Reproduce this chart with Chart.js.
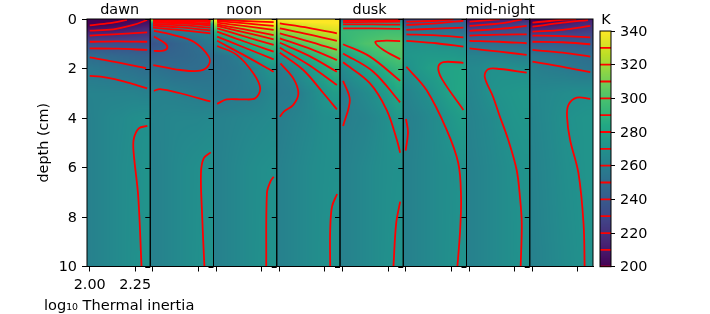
<!DOCTYPE html>
<html><head><meta charset="utf-8">
<style>html,body{margin:0;padding:0;background:#fff;width:710px;height:314px;overflow:hidden}
canvas{position:absolute;top:0}</style>
<script src="https://cdn.jsdelivr.net/npm/chart.js@4"></script>
</head><body>
<canvas id="main" width="600" height="314" style="left:0"></canvas>
<canvas id="bar" width="120" height="314" style="left:590px"></canvas>
<script>
const panelTitles = {0:"dawn",2:"noon",4:"dusk",6:"mid-night"};
const titleNudge = {0:1,2:-1,4:-2,6:2};
const xTickValues = [2.0,2.25];
const depthTicks = [0,2,4,6,8,10];
const colorTicks = [200,220,240,260,280,300,320,340];
const colorLevels = [200,210,220,230,240,250,260,270,280,290,300,310,320,330];
const gridX = [2.0,2.06,2.12,2.18,2.24,2.3];
const gridDepth = [0,0.2,0.5,1,1.5,2,3,4,6,10];

const temp1=[[196,197,198,199,201,203],[198,199,201,203,206,208],[211,212,212,214,216,219],[233,233,233,233,233,232],[249,248,247,246,245,244],[256,255,254,253,252,250],[262,262,262,262,262,261],[261,263,265,266,268,269],[261,263,265,267,268.5,271],[261,263,265,267,269,271]];
const temp2=[[330,330,328,326,325,324],[270,275,278,281,283,285],[249,252,255,258,260,261],[236,240,244,247,251,256],[244,245,246,247,249,251],[253,251,249.5,250,250,252],[261,261,260,259,258,257],[262,263,264,264,264,265],[261,263,265,267,268.5,270],[261,263,265,267,269,270.7]];
const temp3=[[345,348,350,352,353,354],[322,327,331,334,336,338],[289,297,304,310,315,319],[265,273,281,288,294,298],[252,255,259,268,278,285],[253,254,256,260,266,272],[255,256,257,258,260,264],[261,262,263,264,265,266],[261,263,265,267,268.5,269.5],[261,263,265,267,269,271]];
const temp4=[[342,344,345,346,346,347],[329,332,335,337,338,339],[313,318,322,326,329,332],[289,296,302,308,312,317],[268,275,282,289,296,304],[258,263,270,276,283,292],[257,258,260.5,266,272,277],[259,261,263,265,268,269],[261,263,265,267,268.5,269.5],[261,263,265,267,269,271]];
const temp5=[[248,250,252,254,256,258],[278,278,279,279,280,280],[293,294,295,296,297,297],[291,296,300,302,304,304],[276,284,290,295,298,301],[266,273,277,283,288,293],[257,262,266,270,276,283],[259,261,262,265,268.5,274],[261,263,265,267,268.5,269.5],[261,263,265,267,269,271]];
const temp6=[[226,228,230,231,232,233],[240,241,242,243,244,245],[254,254,254,253,253,252],[271,271,271,270,270,269],[273,274,275,275,275,274],[269.6,274,278,280.2,281,282],[262,266,269.5,275,280,283],[260,262,265,268,273,277],[261,263,265,267,268.5,270.5],[261,263,265,267,269,270.7]];
const temp7=[[205,207,209,211,213,215],[216,217,219,221,224,228],[231,232,233,234,235,236],[252,251,251,250,250,249],[262,262,261,261,260,259.5],[265,266,269.6,269.9,269,268.5],[263,266,270.5,272,273,274],[262,264,266,269.5,272,273],[261,263,265,267,269.3,271],[261,263,265,267,269,270.8]];
const temp8=[[196,198,200,203,206,210],[203,205,208,211,214,217],[220,221,222,223,224,226],[243,242,242,241,240.5,240],[256,255,254,252,251,250.5],[261,259,258,257,255,254],[264,265,266,267,268,268.5],[263,265,267,269.8,271,272],[262,264,266,268.5,270,272],[261,263,265,267,268.8,270.5]];
const temps=[temp1,temp2,temp3,temp4,temp5,temp6,temp7,temp8];

const contours1=[[200,[2.0,.26,2.11,.17,2.205,.04]],[210,[2.0,.47,2.13,.42,2.24,.24,2.316,.04]],[220,[2.0,.67,2.13,.62,2.316,.54]],[230,[2.0,.92,2.15,.9,2.316,.92]],[240,[2.0,1.19,2.15,1.2,2.316,1.25]],[250,[2.0,1.55,2.13,1.72,2.31,1.99]],[260,[2.0,2.3,2.06,2.33,2.13,2.42,2.205,2.56,2.261,2.68,2.316,2.8]],[270,[2.317,4.32,2.27,4.42,2.242,4.86,2.242,5.43,2.267,7.18,2.285,10]]];
const contours2=[[330,[2.0,.01,2.15,.02,2.316,.04]],[320,[2.0,.04,2.15,.05,2.316,.08]],[310,[2.0,.07,2.15,.09,2.316,.13]],[300,[2.0,.11,2.15,.13,2.316,.2]],[290,[2.0,.15,2.15,.18,2.316,.26]],[280,[2.0,.2,2.15,.25,2.316,.35]],[270,[2.0,.27,2.15,.34,2.316,.46]],[260,[2.0,.35,2.15,.45,2.316,.58]],[250,[2.005,.48,2.113,.65,2.224,.92,2.307,1.52,2.307,1.86,2.261,2.09,2.15,2.06,2.002,1.86]],[240,[2.005,.71,2.066,.98,2.079,1.16,2.057,1.28,2.005,1.29]],[260,[2.005,2.9,2.039,2.83,2.15,3.0,2.316,3.33]],[270,[2.318,5.39,2.279,5.63,2.264,6.23,2.27,7.85,2.283,10]]];
const contours3=[[350,[2.005,.04,2.15,.08,2.316,.13]],[340,[2.005,.08,2.15,.17,2.316,.28]],[330,[2.005,.15,2.15,.28,2.316,.44]],[320,[2.005,.22,2.15,.41,2.316,.65]],[310,[2.005,.28,2.15,.53,2.316,.82]],[300,[2.005,.38,2.15,.69,2.316,1.05]],[290,[2.005,.51,2.15,.9,2.316,1.32]],[280,[2.005,.71,2.15,1.14,2.316,1.63]],[270,[2.005,.88,2.15,1.45,2.316,2.13]],[260,[2.005,1.09,2.113,1.45,2.205,2.2,2.242,2.8,2.215,3.2,2.15,3.25,2.057,3.25,2.005,3.43]],[270,[2.316,6.37,2.298,6.57,2.279,7.03,2.275,10]]];
const contours4=[[330,[2.002,.18,2.16,.36,2.316,.58]],[320,[2.002,.38,2.16,.62,2.316,.88]],[310,[2.002,.58,2.16,.9,2.316,1.25]],[300,[2.002,.78,2.16,1.18,2.316,1.66]],[290,[2.002,.96,2.16,1.48,2.316,2.13]],[280,[2.002,1.16,2.16,1.85,2.316,2.67]],[270,[2.002,1.36,2.131,2.06,2.242,3.0,2.316,3.65]],[260,[2.005,1.79,2.076,2.4,2.104,3.0,2.076,3.47,2.024,3.74,2.002,3.95]],[270,[2.317,7.07,2.289,7.58,2.279,8.53,2.279,10]]];
const contours5=[[260,[2.002,.07,2.16,.05,2.316,.04]],[270,[2.002,.13,2.16,.12,2.316,.11]],[280,[2.002,.22,2.16,.22,2.316,.23]],[290,[2.002,.38,2.16,.38,2.316,.4]],[300,[2.316,.89,2.22,.88,2.179,.94,2.224,1.25,2.316,1.62]],[290,[2.002,1.02,2.15,1.52,2.316,2.5]],[280,[2.002,1.39,2.168,2.13,2.316,3.37]],[270,[2.002,1.75,2.15,2.6,2.242,3.68,2.298,4.89,2.316,5.4]],[260,[2.002,2.5,2.039,3.27,2.002,4.32]],[270,[2.316,7.38,2.294,8.26,2.279,10]]];
const contours6=[[230,[2.002,.11,2.168,.07,2.261,.01]],[240,[2.002,.24,2.168,.18,2.316,.07]],[250,[2.002,.44,2.168,.39,2.316,.35]],[260,[2.002,.62,2.168,.66,2.316,.74]],[270,[2.002,.88,2.168,.98,2.316,1.12]],[280,[2.316,1.77,2.205,1.74,2.178,1.93,2.196,2.4,2.316,3.68]],[270,[2.002,1.93,2.113,2.87,2.224,4.48,2.288,5.83,2.303,7.18,2.298,8.53,2.283,10]],[260,[2.0,4.04,2.011,4.57,1.998,5.32]]];
const contours7=[[210,[2.002,.11,2.113,.04,2.168,.01]],[220,[2.002,.28,2.168,.18,2.29,.01]],[230,[2.002,.48,2.168,.4,2.316,.28]],[240,[2.002,.67,2.168,.63,2.316,.62]],[250,[2.002,.88,2.168,.92,2.316,.98]],[260,[2.002,1.19,2.168,1.32,2.316,1.45]],[270,[2.316,2.17,2.168,2.02,2.104,2.03,2.085,2.33,2.131,3.14,2.169,3.95,2.215,4.89,2.261,6.1,2.279,7.18,2.289,8.26,2.283,10]]];
const contours8=[[200,[2.0,.15,2.148,.04,2.24,.01]],[210,[2.0,.31,2.167,.15,2.305,.04]],[220,[2.0,.51,2.167,.44,2.318,.28]],[230,[2.0,.67,2.167,.69,2.318,.74]],[240,[2.0,.92,2.167,.94,2.318,1.02]],[250,[2.0,1.25,2.167,1.36,2.318,1.52]],[260,[2.0,1.72,2.167,1.93,2.318,2.15]],[270,[2.318,3.23,2.244,3.18,2.198,3.47,2.19,3.95,2.207,4.89,2.253,6.23,2.281,8.26,2.287,10]]];
const contourSets=[contours1,contours2,contours3,contours4,contours5,contours6,contours7,contours8];

const viridisStops=[[68,1,84],[72,36,117],[65,68,135],[53,95,141],[42,120,142],[33,145,140],[34,168,132],[68,191,112],[122,209,81],[189,223,38],[253,231,37]];
function viridis(v){
  let t=Math.max(0,Math.min(1,(v-200)/140))*10, i=Math.min(9,Math.floor(t)), f=t-i;
  const a=viridisStops[i],b=viridisStops[i+1];
  return [a[0]+(b[0]-a[0])*f,a[1]+(b[1]-a[1])*f,a[2]+(b[2]-a[2])*f];
}
function bracket(arr,v){
  let i=0; while(i<arr.length-2 && v>arr[i+1]) i++;
  const f=Math.max(0,Math.min(1,(v-arr[i])/(arr[i+1]-arr[i])));
  return [i,f];
}
function sample(tab,x,d){
  const [i,fx]=bracket(gridX,x),[j,fy]=bracket(gridDepth,d);
  const a=tab[j][i]*(1-fx)+tab[j][i+1]*fx, b=tab[j+1][i]*(1-fx)+tab[j+1][i+1]*fx;
  return a*(1-fy)+b*fy;
}
function paint(ctx,l,t,r,b,colorAt){
  const w=Math.round(r-l),h=Math.round(b-t);
  const off=document.createElement('canvas');off.width=w;off.height=h;
  const oc=off.getContext('2d'),im=oc.createImageData(w,h);
  for(let py=0;py<h;py++)for(let px=0;px<w;px++){
    const c=colorAt(l+px+.5,t+py+.5),k=(py*w+px)*4;
    im.data[k]=c[0];im.data[k+1]=c[1];im.data[k+2]=c[2];im.data[k+3]=255;
  }
  oc.putImageData(im,0,0);
  ctx.drawImage(off,l,t,r-l,b-t);
}
const FONT='"DejaVu Sans"';
const FS=14.4;
Chart.defaults.font.family=FONT;
Chart.defaults.font.size=FS;
Chart.defaults.color='#000';
Chart.defaults.animation=false;

const scales={
  y:{type:'linear',position:'left',reverse:true,min:0,max:10,
    afterBuildTicks:s=>{s.ticks=depthTicks.map(value=>({value}))},
    afterFit:s=>{s.width=87;s.paddingTop=0;s.paddingBottom=0},
    border:{color:'#000',width:1},
    grid:{drawOnChartArea:false,drawTicks:true,tickLength:5,color:'#000',lineWidth:1},
    ticks:{padding:5,labelOffset:1,font:{size:FS}},
    title:{display:true,text:'depth (cm)',font:{size:FS},padding:{top:36,bottom:0}}}
};
temps.forEach((_,i)=>{
  scales['x'+i]={type:'linear',position:'bottom',stack:'panels',min:1.985,max:2.333,
    afterBuildTicks:s=>{s.ticks=xTickValues.map(value=>({value}))},
    afterFit:s=>{s.height=47.5;s.paddingLeft=0;s.paddingRight=0},
    border:{color:'#000',width:1},
    grid:{drawOnChartArea:false,drawTicks:true,tickLength:5,color:'#000',lineWidth:1},
    ticks:{autoSkip:false,maxRotation:0,padding:5,font:{size:FS},
      callback:v=>i===0?v.toFixed(2):''}};
});
const datasets=[];
contourSets.forEach((set,i)=>set.forEach(([level,pts])=>{
  const data=[];for(let k=0;k<pts.length;k+=2)data.push({x:pts[k],y:pts[k+1]});
  datasets.push({type:'line',label:level+' K',xAxisID:'x'+i,yAxisID:'y',data,parsing:false,
    borderColor:'#ff0000',borderWidth:1.8,pointRadius:0,tension:.35,fill:false});
}));
const panelPlugin={
  id:'panels',
  beforeDatasetsDraw(c){
    const y=c.scales.y,ctx=c.ctx;
    temps.forEach((tab,i)=>{
      const x=c.scales['x'+i];
      paint(ctx,x.left,y.top,x.right,y.bottom,(px,py)=>viridis(sample(tab,x.getValueForPixel(px),y.getValueForPixel(py))));
    });
  },
  afterDatasetsDraw(c){
    const y=c.scales.y,ctx=c.ctx;
    ctx.save();ctx.strokeStyle='#000';ctx.lineWidth=1;
    temps.forEach((_,i)=>{
      const x=c.scales['x'+i];
      ctx.strokeRect(x.left,y.top,x.right-x.left,y.bottom-y.top);
      if(i>0)depthTicks.forEach(v=>{const p=Math.round(y.getPixelForValue(v))+.5;
        ctx.beginPath();ctx.moveTo(x.left-5,p);ctx.lineTo(x.left,p);ctx.stroke();});
    });
    ctx.fillStyle='#000';ctx.font=FS+'px '+FONT;ctx.textAlign='center';ctx.textBaseline='alphabetic';
    Object.keys(panelTitles).forEach(i=>{
      const x=c.scales['x'+i];
      ctx.fillText(panelTitles[i],(x.left+x.right)/2+titleNudge[i],14);
    });
    ctx.textAlign='left';
    ctx.font='14.6px '+FONT;
    ctx.fillText('log\u2081\u2080 Thermal inertia',44,310);
    ctx.restore();
  }
};
new Chart(document.getElementById('main'),{
  type:'line',data:{datasets},plugins:[panelPlugin],
  options:{responsive:false,layout:{padding:{left:0,right:7,top:19,bottom:0}},
    plugins:{legend:{display:false},title:{display:false},tooltip:{enabled:false}},scales}
});

const barDatasets=colorLevels.map(level=>({type:'line',label:level+' K',
  data:[{x:0,y:level},{x:1,y:level}],parsing:false,borderColor:'#ff0000',borderWidth:1.8,pointRadius:0,fill:false}));
const barPlugin={
  id:'colorbar',
  beforeDatasetsDraw(c){
    const y=c.scales.y,x=c.scales.x;
    paint(c.ctx,x.left,y.top,x.right,y.bottom,(px,py)=>viridis(y.getValueForPixel(py)));
  },
  afterDatasetsDraw(c){
    const y=c.scales.y,x=c.scales.x,ctx=c.ctx;
    ctx.save();ctx.strokeStyle='#000';ctx.lineWidth=1;
    ctx.strokeRect(x.left,y.top,x.right-x.left,y.bottom-y.top);
    ctx.fillStyle='#000';ctx.font=FS+'px '+FONT;ctx.textAlign='center';
    ctx.fillText('K',(x.left+x.right)/2+.5,24);
    ctx.restore();
  }
};
new Chart(document.getElementById('bar'),{
  type:'line',data:{datasets:barDatasets},plugins:[barPlugin],
  options:{responsive:false,layout:{padding:{left:10,right:0,top:31,bottom:47.3}},
    plugins:{legend:{display:false},title:{display:false},tooltip:{enabled:false}},
    scales:{
      x:{type:'linear',display:false,min:0,max:1},
      y:{type:'linear',position:'right',min:200,max:340,
        afterBuildTicks:s=>{s.ticks=colorTicks.map(value=>({value}))},
        afterFit:s=>{s.width=99;s.paddingTop=0;s.paddingBottom=0},
        border:{display:false},
        grid:{drawOnChartArea:false,drawTicks:true,tickLength:4,color:'#000',lineWidth:1},
        ticks:{padding:5,labelOffset:1,font:{size:FS}}}
    }}
});
</script>
</body></html>
